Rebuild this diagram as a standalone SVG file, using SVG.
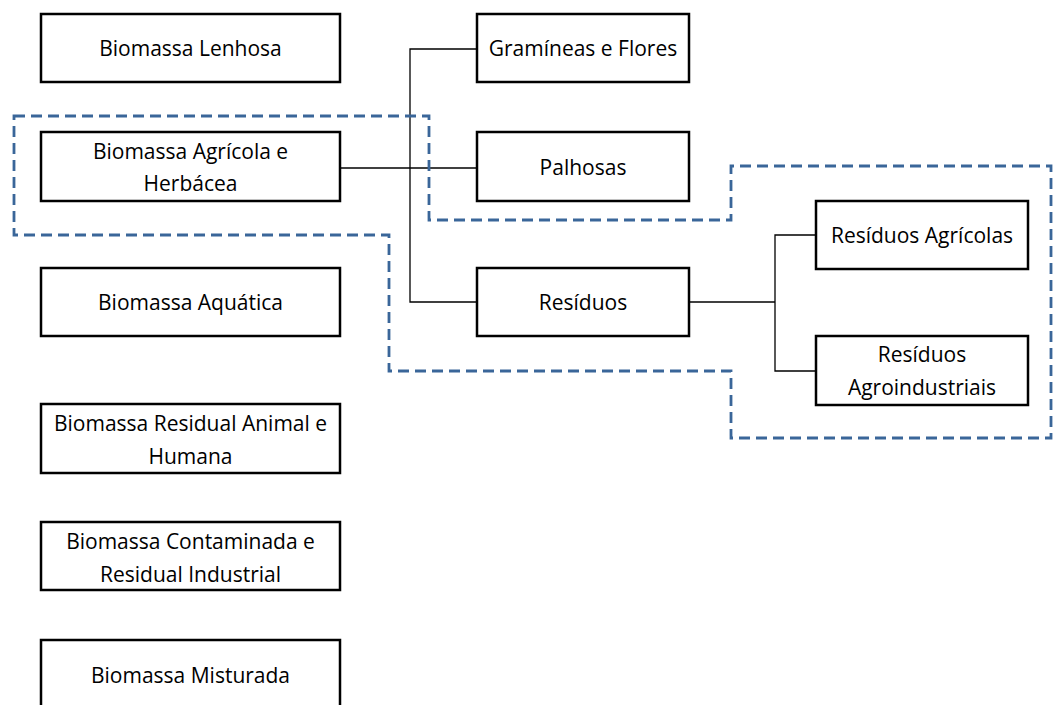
<svg xmlns="http://www.w3.org/2000/svg" width="1053" height="705" viewBox="0 0 1053 705">
<style>
.box{fill:#fff;stroke:#000;stroke-width:2.5}
.t{font-family:"Open Sans","Liberation Sans",sans-serif;font-size:21px;fill:#000;text-anchor:middle}
.c{fill:none;stroke:#000;stroke-width:1.3}
.d{fill:none;stroke:#3A6699;stroke-width:2.8;stroke-dasharray:11 6}
</style>
<rect width="1053" height="705" fill="#fff"/>
<g id="connectors">
<path class="c" d="M340 168H477"/>
<path class="c" d="M477 49H410V302H477"/>
<path class="c" d="M689 302H775"/>
<path class="c" d="M816 235H775V371H816"/>
</g>
<g id="n1"><rect class="box" x="41" y="14" width="299" height="68"/><text class="t" x="190.5" y="56">Biomassa Lenhosa</text></g>
<g id="n2"><rect class="box" x="41" y="132" width="299" height="69"/><text class="t" x="190.5" y="159">Biomassa Agrícola e</text><text class="t" x="190.5" y="191">Herbácea</text></g>
<g id="n3"><rect class="box" x="41" y="268" width="299" height="68"/><text class="t" x="190.5" y="310">Biomassa Aquática</text></g>
<g id="n4"><rect class="box" x="41" y="404" width="299" height="69"/><text class="t" x="190.5" y="431">Biomassa Residual Animal e</text><text class="t" x="190.5" y="464">Humana</text></g>
<g id="n5"><rect class="box" x="41" y="522" width="299" height="68"/><text class="t" x="190.5" y="549">Biomassa Contaminada e</text><text class="t" x="190.5" y="582">Residual Industrial</text></g>
<g id="n6"><rect class="box" x="41" y="640" width="299" height="70"/><text class="t" x="190.5" y="683">Biomassa Misturada</text></g>
<g id="n7"><rect class="box" x="477" y="14" width="212" height="68"/><text class="t" x="583" y="56">Gramíneas e Flores</text></g>
<g id="n8"><rect class="box" x="477" y="132" width="212" height="69"/><text class="t" x="583" y="175">Palhosas</text></g>
<g id="n9"><rect class="box" x="477" y="268" width="212" height="68"/><text class="t" x="583" y="310">Resíduos</text></g>
<g id="n10"><rect class="box" x="816" y="201" width="212" height="68"/><text class="t" x="922" y="243">Resíduos Agrícolas</text></g>
<g id="n11"><rect class="box" x="816" y="336" width="212" height="69"/><text class="t" x="922" y="362">Resíduos</text><text class="t" x="922" y="395">Agroindustriais</text></g>
<g id="groups">
<path class="d" d="M14 116H429V220H731V166H1051V438H731V371H389V235H14Z"/>
</g>
</svg>
